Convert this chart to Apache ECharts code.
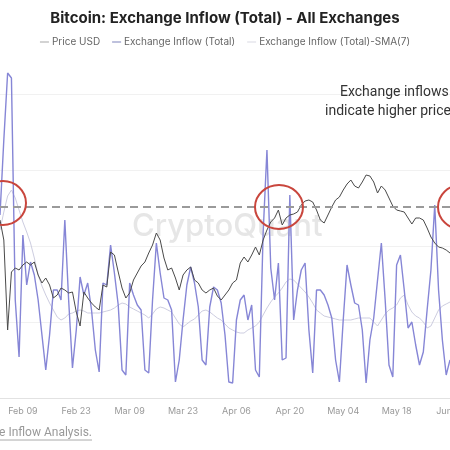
<!DOCTYPE html>
<html>
<head>
<meta charset="utf-8">
<script src="https://cdn.jsdelivr.net/npm/echarts@6/dist/echarts.min.js"></script>
<style>
  html, body { margin: 0; padding: 0; background: #fff; }
  #chart { width: 450px; height: 450px; }
</style>
</head>
<body>
<div id="chart"></div>
<script>
// daily values, Feb 03 .. Jun 01
const startDate = [2023, 1, 3]
const dayCount = 119
const seriesNames = ['Price USD', 'Exchange Inflow (Total)', 'Exchange Inflow (Total)-SMA(7)']

// exchange inflow, thousand BTC
const inflow = [
  91.5, 129, 162.5, 160, 49, 20.5, 81.5, 56.5, 68, 61.5,
  49, 31.5, 14, 31.5, 54, 54, 49, 89, 49, 15,
  34, 60.5, 51.5, 57.5, 44, 24, 13, 57.5, 56.5, 76.5,
  62.5, 46.5, 14, 11.5, 57.5, 51.5, 46.5, 44, 14, 12.5,
  49, 77.5, 62.5, 50, 49, 44, 8, 19, 39, 56.5,
  65.5, 57.5, 45.5, 19, 16.5, 45.5, 55.5, 54, 47.5, 31.5,
  8, 7.5, 39, 49, 51.5, 39, 46.5, 14, 10.5, 82.5,
  124, 65, 49, 67.5, 19, 20, 101.5, 39, 54, 64,
  67.5, 34, 12.5, 54, 54, 51.5, 46.5, 40, 19, 8,
  39, 66.5, 56.5, 47.5, 46.5, 34, 7.5, 29, 40, 59,
  77.5, 49, 16.5, 10.5, 66.5, 71.5, 54, 35, 38, 26.5,
  16.5, 23, 44, 64, 96.5, 54, 29, 11.5, 19
]

// 7-day average of the inflow, thousand BTC
const inflowSma = [
  84, 93, 101, 104, 100, 94, 88, 83, 77.5, 70,
  61.5, 56, 51.5, 47.5, 44, 40.5, 39, 40, 42, 42.5,
  43.5, 44, 43.5, 42.5, 42.5, 42.5, 42.5, 43, 43.5, 44,
  45, 46.5, 47.5, 47, 45.5, 44.5, 43.5, 42.5, 41.5, 40,
  42, 44.5, 45.5, 45, 44, 43, 40, 37, 35.5, 37,
  38.5, 39.5, 41.5, 43.5, 44, 43, 41.5, 40, 39, 37,
  35, 34, 33, 32.5, 32.5, 34, 35, 36, 38, 41.5,
  45, 48, 50.5, 52.5, 55, 58, 59.5, 59, 57, 55,
  53, 50.5, 47.5, 44, 42.5, 41, 40.5, 40, 39.5, 39,
  39, 39, 39, 39.5, 40, 40, 40, 40, 38, 36,
  39, 42, 44, 45, 46.5, 50, 51.5, 46.5, 43, 41,
  40, 38, 35, 36, 40, 44, 46, 47, 48
]

// BTC price, USD
const price = [
  24900, 23900, 19400, 22300, 22500, 22400, 22650, 22800, 22650, 22800,
  22150, 21750, 22000, 21650, 21000, 21150, 21500, 21400, 21250, 21300,
  20300, 19600, 21300, 21000, 20750, 20550, 20400, 21650, 21550, 23300,
  23150, 22300, 21500, 21000, 21250, 21900, 22250, 22600, 22800, 23250,
  23650, 24250, 23900, 23000, 22400, 22500, 22000, 21400, 22150, 22400,
  22550, 21900, 21750, 21400, 21250, 21400, 21500, 21100, 20900, 21150,
  21400, 21750, 21900, 22750, 23050, 22800, 23150, 23550, 23150, 23900,
  24400, 24800, 25000, 25400, 24650, 25000, 25150, 25200, 25300, 25650,
  25850, 25900, 25800, 25400, 24900, 24750, 25150, 25550, 25900, 26050,
  26400, 26700, 26900, 26600, 26500, 26800, 27150, 27100, 26800, 26250,
  26600, 26400, 26000, 25600, 25400, 25350, 25300, 25000, 24700, 25000,
  25000, 24900, 24500, 24050, 23750, 23550, 23500, 23400, 23250
]

const priceLevel = 25550

const months = ['Jan', 'Feb', 'Mar', 'Apr', 'May', 'Jun', 'Jul', 'Aug', 'Sep', 'Oct', 'Nov', 'Dec']
const dates = []
for (let i = 0; i < dayCount; i++) {
  const d = new Date(Date.UTC(startDate[0], startDate[1], startDate[2] + i))
  dates.push(months[d.getUTCMonth()] + ' ' + String(d.getUTCDate()).padStart(2, '0'))
}

const font = 'Inter, "Noto Sans", sans-serif'
const chart = echarts.init(document.getElementById('chart'))

function legendItem (name, color) {
  return {
    name: name,
    icon: 'rect',
    itemStyle: { color: color, borderWidth: 0 },
    lineStyle: { color: color, width: 1.5 }
  }
}

chart.setOption({
  animation: false,
  backgroundColor: '#fff',
  title: {
    text: 'Bitcoin: Exchange Inflow (Total) - All Exchanges',
    left: 'center',
    top: 6,
    textStyle: { fontSize: 15, fontWeight: 'bold', color: '#222', fontFamily: font }
  },
  legend: {
    top: 32,
    left: 'center',
    itemWidth: 9,
    itemHeight: 1.5,
    itemGap: 12,
    textStyle: { fontSize: 10, color: '#666', fontFamily: font, padding: [0, 0, 0, -2] },
    data: [
      legendItem(seriesNames[0], '#c4c4c4'),
      legendItem(seriesNames[1], '#a9acd2'),
      legendItem(seriesNames[2], '#e6e6ec')
    ]
  },
  grid: { left: 0, right: 0, top: 94, bottom: 52, containLabel: false, outerBoundsMode: 'none' },
  xAxis: {
    type: 'category',
    data: dates,
    boundaryGap: false,
    axisLine: { lineStyle: { color: '#e2e2e2' } },
    axisTick: { show: false },
    axisLabel: {
      interval: (idx) => idx >= 6 && (idx - 6) % 14 === 0,
      alignMaxLabel: 'center',
      hideOverlap: false,
      fontSize: 9,
      color: '#999',
      margin: 9,
      fontFamily: font
    }
  },
  yAxis: [
    {
      type: 'value',
      min: 0,
      max: 152,
      interval: 38,
      axisLabel: { show: false },
      axisLine: { show: false },
      axisTick: { show: false },
      splitLine: { lineStyle: { color: '#f1f1f1' } }
    },
    {
      type: 'value',
      min: 16000,
      max: 31200,
      axisLabel: { show: false },
      axisLine: { show: false },
      axisTick: { show: false },
      splitLine: { show: false }
    }
  ],
  series: [
    {
      name: seriesNames[2],
      type: 'line',
      data: inflowSma,
      showSymbol: false,
      clip: false,
      lineStyle: { width: 1, color: '#cdcde0' },
      itemStyle: { color: '#cdcde0' },
      z: 2
    },
    {
      name: seriesNames[1],
      type: 'line',
      data: inflow,
      showSymbol: false,
      clip: false,
      lineStyle: { width: 1.4, color: '#8686d6' },
      itemStyle: { color: '#8686d6' },
      z: 3
    },
    {
      name: seriesNames[0],
      type: 'line',
      yAxisIndex: 1,
      data: price,
      showSymbol: false,
      clip: false,
      lineStyle: { width: 1, color: '#4a4a4a' },
      itemStyle: { color: '#4a4a4a' },
      z: 4,
      markLine: {
        silent: true,
        symbol: ['none', 'none'],
        label: { show: false },
        lineStyle: { type: [8, 5], color: '#9a9a9a', width: 2 },
        data: [{ yAxis: priceLevel }]
      }
    }
  ],
  graphic: [
    {
      type: 'text',
      left: 132,
      top: 211,
      z: 0,
      style: { text: 'CryptoQuant', fontSize: 31, fontWeight: 500, fill: '#e6e6e6', fontFamily: font }
    },
    {
      type: 'text',
      x: 340,
      y: 92,
      z: 100,
      style: { text: 'Exchange inflows', fontSize: 14, fill: '#333', fontFamily: 'Roboto, sans-serif', verticalAlign: 'middle' }
    },
    {
      type: 'text',
      x: 325,
      y: 111,
      z: 100,
      style: { text: 'indicate higher price', fontSize: 14, fill: '#333', fontFamily: 'Roboto, sans-serif', verticalAlign: 'middle' }
    },
    {
      type: 'text',
      x: 92,
      y: 433,
      z: 100,
      style: { text: 'Exchange Inflow Analysis.', fontSize: 12, fill: '#999', fontFamily: 'Roboto, sans-serif', align: 'right', verticalAlign: 'middle' }
    },
    {
      type: 'line',
      z: 100,
      shape: { x1: 0, y1: 440, x2: 92, y2: 440 },
      style: { stroke: '#aaa', lineWidth: 1 }
    },
    {
      type: 'ellipse',
      z: 100,
      shape: { cx: 3, cy: 203, rx: 23, ry: 22 },
      style: { fill: 'none', stroke: '#c9463d', lineWidth: 2 }
    },
    {
      type: 'ellipse',
      z: 100,
      shape: { cx: 279, cy: 207, rx: 24, ry: 22 },
      style: { fill: 'none', stroke: '#c9463d', lineWidth: 2 }
    },
    {
      type: 'ellipse',
      z: 100,
      shape: { cx: 461, cy: 207, rx: 23, ry: 22 },
      style: { fill: 'none', stroke: '#c9463d', lineWidth: 2 }
    }
  ]
})
</script>
</body>
</html>
